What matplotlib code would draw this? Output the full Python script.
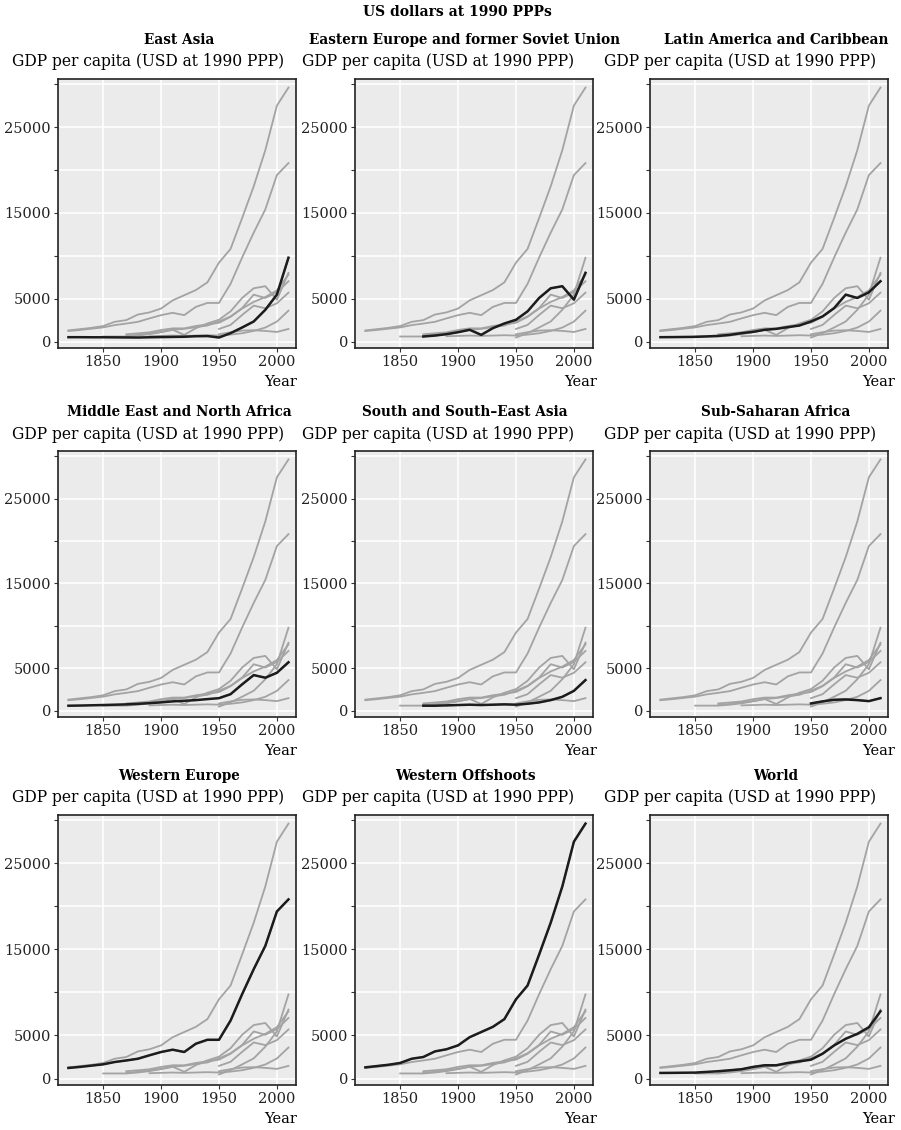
import numpy as np
import matplotlib.pyplot as plt

plt.rcParams['font.family'] = ['DejaVu Serif']

nan = np.nan
years = np.arange(1820, 2011, 10)

regions = ["East Asia", "Eastern Europe and former Soviet Union",
           "Latin America and Caribbean", "Middle East and North Africa",
           "South and South\u2013East Asia", "Sub-Saharan Africa",
           "Western Europe", "Western Offshoots", "World"]

# GDP per capita, 1820..2010 by decade
east_asia = [510, 510, 500, 500, 490, 480, 470, 500, 520, 540,
             560, 620, 640, 470, 980, 1640, 2340, 3700, 5470, 9770]
eastern_europe = [nan, nan, nan, 590, nan, 590, 700, 860, 1090, 1370,
                  780, 1560, 2110, 2540, 3520, 5080, 6210, 6450, 4880, 8010]
latin_america = [510, 520, 535, 550, 600, 660, 780, 980, 1130, 1370,
                 1480, 1680, 1870, 2340, 2930, 3900, 5470, 5080, 5740, 7030]
mena = [580, 600, 630, 660, 700, 740, 800, 880, 970, 1090,
        1160, 1240, 1360, 1470, 1940, 3100, 4190, 3880, 4460, 5700]
south_asia = [nan, nan, nan, nan, nan, 580, 580, 620, 660, 700,
              660, 700, 740, 700, 810, 970, 1240, 1630, 2330, 3600]
ss_africa = [nan, nan, nan, nan, nan, nan, nan, nan, nan, nan,
             nan, nan, nan, 850, 1090, 1280, 1320, 1240, 1120, 1470]
western_europe = [1230, 1350, 1500, 1650, 1920, 2100, 2300, 2700, 3080, 3350,
                  3080, 4040, 4500, 4500, 6730, 9800, 12700, 15400, 19400, 20800]
western_offshoots = [1300, 1450, 1600, 1810, 2300, 2500, 3150, 3400, 3850, 4800,
                     5400, 6000, 6900, 9200, 10800, 14400, 18100, 22300, 27500, 29600]
world = [650, 660, 675, 690, 770, 850, 960, 1080, 1350, 1540,
         1540, 1810, 2000, 2190, 2880, 3850, 4620, 5190, 5960, 7810]

series = [east_asia, eastern_europe, latin_america, mena, south_asia,
          ss_africa, western_europe, western_offshoots, world]
# first year each region shows up in the grey background
grey_from = [1950, 1850, 1870, 1950, 1890, 1950, 1820, 1820, 1870]

W, H = 901, 1130
fig = plt.figure(figsize=(W / 100, H / 100), dpi=100)

col_left = [58, 355, 650]
col_w = 238
row_top = [79, 451, 815]
row_h = [269, 266, 270]
title_x = [179, 465, 776]
sub_x = [12, 302, 604]
year_x = [297, 597, 895]

fig.text(457 / W, 1 - 12 / H, "US dollars at 1990 PPPs", ha='center', va='center',
         fontsize=10, fontweight='bold')

for i, name in enumerate(regions):
    r, c = divmod(i, 3)
    ax = fig.add_axes([col_left[c] / W, 1 - (row_top[r] + row_h[r]) / H,
                       col_w / W, row_h[r] / H])
    ax.set_facecolor('#EBEBEB')
    for j, vals in enumerate(series):
        v = np.array(vals, dtype=float)
        keep = (~np.isnan(v)) & (years >= grey_from[j])
        ax.plot(years[keep], v[keep], color='#A3A3A3', lw=1.3, zorder=2)
    ax.plot(years, np.array(series[i], dtype=float), color='#1C1C1C', lw=1.8, zorder=3)

    ax.set_xlim(1811, 2016.5)
    ax.set_ylim(-750, 30600)
    ax.set_xticks([1850, 1900, 1950, 2000])
    ax.set_yticks(range(0, 30001, 5000))
    ax.set_yticklabels(['0', '5000', '', '15000', '', '25000', ''])
    ax.grid(color='white', lw=1.1)
    ax.set_axisbelow(True)
    for s in ax.spines.values():
        s.set_color('#222222')
        s.set_linewidth(1.2)
    ax.tick_params(direction='out', length=3, width=0.8, color='#333333',
                   labelsize=10.5, labelcolor='#222222', pad=2)

    fig.text(title_x[c] / W, 1 - (row_top[r] - 39) / H, name, ha='center', va='center',
             fontsize=9.8, fontweight='bold')
    fig.text(sub_x[c] / W, 1 - (row_top[r] - 17) / H, "GDP per capita (USD at 1990 PPP)",
             ha='left', va='center', fontsize=11.2)
    fig.text(year_x[c] / W, 1 - (row_top[r] + row_h[r] + 34) / H, "Year",
             ha='right', va='center', fontsize=10.5)

fig.savefig('out.png', dpi=100)
